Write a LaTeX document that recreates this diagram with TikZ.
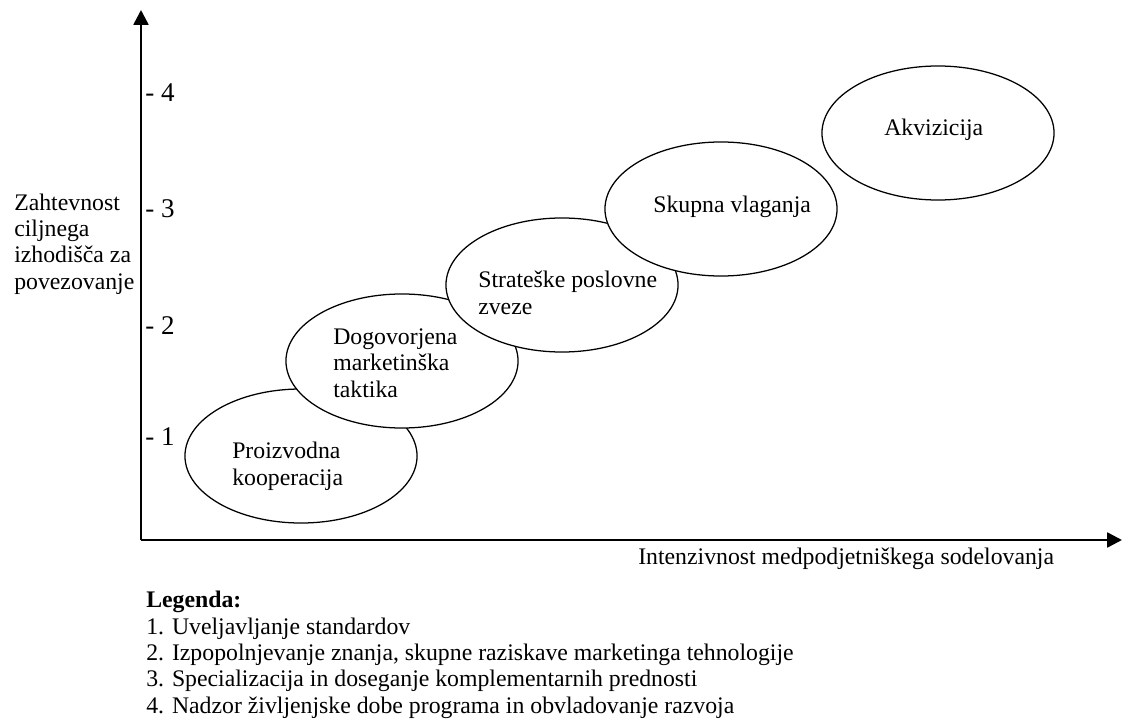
\documentclass[tikz,border=0pt]{standalone}
\usepackage{fontspec}
\setmainfont{Liberation Serif}
\usetikzlibrary{shapes.geometric, arrows.meta, positioning}
\tikzstyle{axis} = [line width=1.8pt,-{Triangle[length=10.5pt,width=10.5pt]}]
\tikzstyle{bubble} = [ellipse, draw=black, line width=0.9pt, fill=white, inner sep=0pt, minimum width=5.8cm, minimum height=3.35cm]
\tikzstyle{btext} = [anchor=base west, inner sep=0pt, align=left]
\tikzstyle{tick} = [anchor=west, inner sep=0pt, font=\fontsize{19.2}{22}\selectfont]

\begin{document}
\begin{tikzpicture}[x=0.025cm, y=-0.025cm, font=\fontsize{16.9}{18.7}\selectfont]
\useasboundingbox (0,0) rectangle (1125,722);
% Axes
\coordinate (origin) at (141,540);
\coordinate (ytop) at (141,10);
\coordinate (xend) at (1122,540);
\draw [axis] (origin) -- (ytop);
\draw [axis] (origin) -- (xend);

% Ticks
\node (t4) [tick] at (145,93) {- 4};
\node (t3) [tick] at (145,209) {- 3};
\node (t2) [tick] at (145,326) {- 2};
\node (t1) [tick] at (145,437) {- 1};

% Axis labels (base = last line)
\node (ylab) [btext] at (14,289) {Zahtevnost\\ciljnega\\izhodišča za\\povezovanje};
\node (xlab) [btext] at (638,564) {Intenzivnost medpodjetniškega sodelovanja};

% Bubbles
\node (proizv) [bubble] at (301,456) {};
\node (dogov) [bubble] at (402,361) {};
\node (strat) [bubble] at (562,285) {};
\node (skupna) [bubble] at (721,209) {};
\node (akviz) [bubble] at (938,133) {};

\node (proizvT) [btext] at (232,485) {Proizvodna\\kooperacija};
\node (dogovT) [btext] at (333,397) {Dogovorjena\\marketinška\\taktika};
\node (stratT) [btext] at (478,314) {Strateške poslovne\\zveze};
\node (skupnaT) [btext] at (653,212) {Skupna vlaganja};
\node (akvizT) [btext] at (884,136) {Akvizicija};

% Legend
\node (legend) [btext] at (146,713) {\textbf{Legenda:}\\
1. Uveljavljanje standardov\\
2. Izpopolnjevanje znanja, skupne raziskave marketinga tehnologije\\
3. Specializacija in doseganje komplementarnih prednosti\\
4. Nadzor življenjske dobe programa in obvladovanje razvoja};

\end{tikzpicture}
\end{document}
